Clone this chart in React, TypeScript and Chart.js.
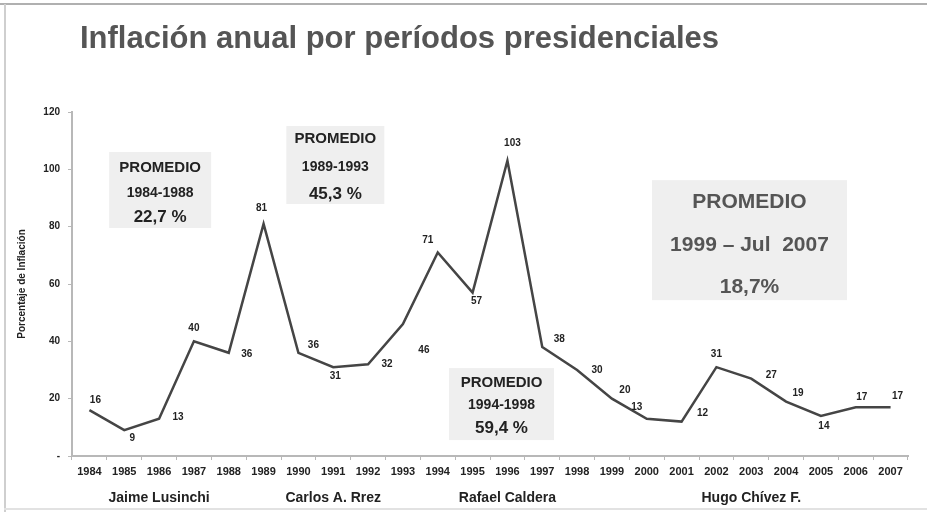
import React, { useEffect, useRef } from "react";
import { Chart, registerables } from "chart.js";

Chart.register(...registerables);

// ---- data ----
const years = [
  "1984", "1985", "1986", "1987", "1988", "1989", "1990", "1991", "1992", "1993", "1994", "1995",
  "1996", "1997", "1998", "1999", "2000", "2001", "2002", "2003", "2004", "2005", "2006", "2007",
];
const inflation = [16, 9, 13, 40, 36, 81, 36, 31, 32, 46, 71, 57, 103, 38, 30, 20, 13, 12, 31, 27, 19, 14, 17, 17];
const yMin = 0;
const yMax = 120;
const yStep = 20;

const chartTitle = "Inflación anual por períodos presidenciales";
const yAxisTitle = "Porcentaje de Inflación";

const presidents = ["Jaime Lusinchi", "Carlos A. Rrez", "Rafael Caldera", "Hugo Chívez F."];
const presidentStart = [0, 5, 10, 15];
const presidentEnd = [4, 9, 14, 23];

const averageHeads = ["PROMEDIO", "PROMEDIO", "PROMEDIO", "PROMEDIO"];
const averagePeriods = ["1984-1988", "1989-1993", "1994-1998", "1999 – Jul  2007"];
const averageValues = ["22,7 %", "45,3 %", "59,4 %", "18,7%"];

// ---- styling / placement (not data) ----
const FONT = "'Liberation Sans', Arial, sans-serif";
// value label offsets in px [dx, dy]
const labelOffsets: [number, number][] = [
  [6, -10], [8, 8], [19, -1], [0, -13], [18, 1], [-2, -16], [15, -8], [2, 9], [19, 0], [21, 26],
  [-10, -12], [4, 9], [5, -17], [17, -8], [20, 0], [13, -8], [-10, -11], [21, -8], [0, -13],
  [20, -3], [12, -8], [3, 10], [6, -10], [7, -11],
];
// boxes: center in (category index, value), size in px, line offsets in px
const boxCenterIdx = [2.03, 7.06, 11.83, 18.95];
const boxCenterVal = [92.8, 101.5, 18.1, 75.3];
const boxW = [102, 98, 105, 195];
const boxH = [76, 78, 72, 120];
const boxLineDy: [number, number, number][] = [
  [-22, 3, 27],
  [-26, 2, 29],
  [-21, 1, 24],
  [-38, 5, 47],
];
const boxFonts: [string, string, string][] = [
  ["bold 15px", "bold 14px", "bold 17px"],
  ["bold 15px", "bold 14px", "bold 17px"],
  ["bold 15px", "bold 14px", "bold 17px"],
  ["bold 21px", "bold 21px", "bold 21px"],
];
const boxColors = ["#222", "#222", "#222", "#555"];

const decorPlugin = {
  id: "decor",
  beforeDraw(chart: any) {
    const { ctx, width, height } = chart;
    ctx.save();
    ctx.fillStyle = "#ffffff";
    ctx.fillRect(0, 0, width, height);
    // frame
    ctx.fillStyle = "#b0b0b0";
    ctx.fillRect(0, 3, width, 2);
    ctx.fillStyle = "#cfcfcf";
    ctx.fillRect(4, 4, 2, height - 4);
    ctx.fillStyle = "#e2e2e2";
    ctx.fillRect(4, height - 4, width, 2);
    // title
    ctx.fillStyle = "#555555";
    ctx.font = `bold 31px ${FONT}`;
    ctx.textAlign = "left";
    ctx.textBaseline = "alphabetic";
    ctx.fillText(chartTitle, 80, 48);
    // average boxes
    const xs = chart.scales.x;
    const ys = chart.scales.y;
    for (let i = 0; i < averageHeads.length; i++) {
      const cx = xs.getPixelForValue(boxCenterIdx[i]);
      const cy = ys.getPixelForValue(boxCenterVal[i]);
      ctx.fillStyle = "#efefef";
      ctx.fillRect(cx - boxW[i] / 2, cy - boxH[i] / 2, boxW[i], boxH[i]);
      const lines = [averageHeads[i], averagePeriods[i], averageValues[i]];
      ctx.fillStyle = boxColors[i];
      ctx.textAlign = "center";
      ctx.textBaseline = "middle";
      for (let j = 0; j < 3; j++) {
        ctx.font = `${boxFonts[i][j]} ${FONT}`;
        ctx.fillText(lines[j], cx, cy + boxLineDy[i][j]);
      }
    }
    ctx.restore();
  },
  afterDatasetsDraw(chart: any) {
    const { ctx } = chart;
    const meta = chart.getDatasetMeta(0);
    ctx.save();
    ctx.fillStyle = "#222";
    ctx.font = `bold 10px ${FONT}`;
    ctx.textAlign = "center";
    ctx.textBaseline = "middle";
    meta.data.forEach((pt: any, i: number) => {
      const [dx, dy] = labelOffsets[i];
      ctx.fillText(String(inflation[i]), pt.x + dx, pt.y + dy);
    });
    // president names
    const xs = chart.scales.x;
    ctx.font = `bold 14px ${FONT}`;
    ctx.fillStyle = "#222";
    presidents.forEach((name, i) => {
      const cx = xs.getPixelForValue((presidentStart[i] + presidentEnd[i]) / 2);
      ctx.fillText(name, cx, xs.bottom - 14);
    });
    ctx.restore();
  },
};

export default function App() {
  const ref = useRef<HTMLCanvasElement | null>(null);
  useEffect(() => {
    document.body.style.margin = "0";
    const canvas = ref.current;
    if (!canvas) return;
    const chart = new Chart(canvas, {
      type: "line",
      data: {
        labels: years,
        datasets: [
          {
            data: inflation,
            borderColor: "#454545",
            borderWidth: 2.5,
            pointRadius: 0,
            tension: 0,
            fill: false,
          },
        ],
      },
      options: {
        responsive: false,
        animation: false,
        layout: { padding: { left: 5, top: 112, right: 19, bottom: 0 } },
        plugins: { legend: { display: false }, tooltip: { enabled: false }, title: { display: false } },
        scales: {
          x: {
            offset: true,
            grid: { display: true, drawOnChartArea: false, offset: true, tickLength: 4, color: "#b8b8b8" },
            border: { color: "#b8b8b8", width: 2 },
            ticks: {
              color: "#222",
              font: { family: FONT, size: 11, weight: "bold" },
              padding: 5,
              maxRotation: 0,
              autoSkip: false,
            },
            afterFit: (scale: any) => {
              scale.height = 56;
            },
          },
          y: {
            min: yMin,
            max: yMax,
            grid: { display: true, drawOnChartArea: false, tickLength: 4, color: "#b8b8b8" },
            border: { color: "#b8b8b8", width: 2 },
            ticks: {
              stepSize: yStep,
              color: "#222",
              font: { family: FONT, size: 10, weight: "bold" },
              padding: 8,
              callback: (v: any) => (Number(v) === 0 ? "-" : String(v)),
            },
            title: {
              display: true,
              text: yAxisTitle,
              color: "#222",
              font: { family: FONT, size: 10, weight: "bold" },
              padding: { top: 11, bottom: 0 },
            },
            afterFit: (scale: any) => {
              scale.width = 67;
            },
          },
        },
      },
      plugins: [decorPlugin],
    });
    return () => chart.destroy();
  }, []);
  return (
    <div style={{ width: 927, height: 512, position: "relative", background: "#fff" }}>
      <canvas ref={ref} width={927} height={512} style={{ display: "block" }} />
    </div>
  );
}
